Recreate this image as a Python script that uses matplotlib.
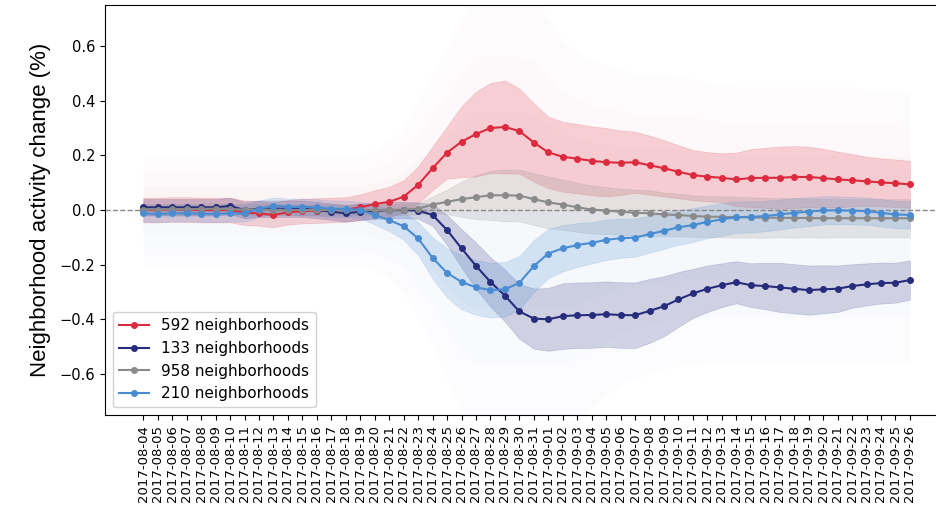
import numpy as np
import pandas as pd
import matplotlib
matplotlib.use('Agg')
import matplotlib.pyplot as plt

dates = pd.date_range('2017-08-04', '2017-09-26').strftime('%Y-%m-%d').tolist()

# mean change per cluster
red_mean = [0.000, 0.000, 0.002, 0.002, 0.000, 0.000, 0.000, -0.010, -0.012, -0.018,
            -0.008, -0.004, -0.002, 0.000, 0.002, 0.010, 0.022, 0.030, 0.049, 0.092,
            0.153, 0.210, 0.250, 0.278, 0.300, 0.304, 0.289, 0.247, 0.211, 0.195,
            0.188, 0.180, 0.175, 0.173, 0.175, 0.164, 0.153, 0.140, 0.128, 0.122,
            0.118, 0.112, 0.117, 0.118, 0.118, 0.121, 0.121, 0.117, 0.112, 0.109,
            0.105, 0.101, 0.098, 0.094]
navy_mean = [0.010, 0.010, 0.010, 0.010, 0.010, 0.010, 0.015, 0.000, 0.005, 0.005,
             0.005, 0.005, 0.000, -0.006, -0.012, -0.006, -0.003, 0.000, 0.000, -0.002,
             -0.018, -0.073, -0.140, -0.204, -0.263, -0.313, -0.371, -0.397, -0.400, -0.388,
             -0.385, -0.384, -0.381, -0.384, -0.385, -0.369, -0.352, -0.327, -0.305, -0.288,
             -0.275, -0.264, -0.275, -0.278, -0.283, -0.288, -0.293, -0.290, -0.288, -0.278,
             -0.272, -0.267, -0.266, -0.256]
grey_mean = [0.002, 0.002, 0.003, 0.003, 0.004, 0.005, 0.003, 0.002, 0.002, 0.001,
             0.001, 0.000, 0.000, 0.000, 0.000, 0.000, 0.000, 0.000, 0.002, 0.005,
             0.020, 0.030, 0.040, 0.047, 0.054, 0.054, 0.053, 0.040, 0.028, 0.020,
             0.010, 0.002, -0.002, -0.006, -0.010, -0.012, -0.016, -0.018, -0.022, -0.024,
             -0.025, -0.026, -0.027, -0.028, -0.028, -0.029, -0.029, -0.030, -0.030, -0.030,
             -0.030, -0.030, -0.030, -0.030]
blue_mean = [-0.012, -0.014, -0.012, -0.012, -0.013, -0.014, -0.012, -0.012, 0.005, 0.016,
             0.012, 0.012, 0.010, 0.005, 0.005, 0.000, -0.018, -0.037, -0.059, -0.104,
             -0.175, -0.230, -0.263, -0.283, -0.293, -0.290, -0.266, -0.205, -0.159, -0.140,
             -0.128, -0.120, -0.109, -0.103, -0.101, -0.088, -0.076, -0.063, -0.055, -0.043,
             -0.034, -0.026, -0.025, -0.022, -0.016, -0.010, -0.006, -0.001, -0.001, -0.002,
             -0.004, -0.010, -0.016, -0.018]

# half width of the shaded band
red_sd = [0.045] * 15 + [0.047, 0.050, 0.055, 0.060, 0.067, 0.080, 0.095, 0.130, 0.155, 0.165,
                         0.170, 0.156, 0.143, 0.131, 0.128, 0.127, 0.126, 0.125, 0.118, 0.112,
                         0.108, 0.103, 0.097, 0.092, 0.090, 0.090, 0.098, 0.106, 0.110, 0.114,
                         0.113, 0.111, 0.107, 0.102, 0.096, 0.090, 0.088, 0.087, 0.086]
navy_sd = [0.030] * 20 + [0.040, 0.055, 0.070, 0.085, 0.090, 0.095, 0.100, 0.110, 0.115, 0.120,
                          0.120, 0.120, 0.120, 0.120, 0.120, 0.117, 0.110, 0.100, 0.090, 0.085,
                          0.080, 0.077, 0.080, 0.085, 0.090, 0.090, 0.090, 0.088, 0.085, 0.080,
                          0.077, 0.075, 0.073, 0.072]
grey_sd = [0.020] * 20 + [0.030, 0.045, 0.065, 0.080, 0.090, 0.095, 0.095, 0.095, 0.095, 0.092,
                          0.090, 0.088, 0.086, 0.085, 0.085, 0.085, 0.080, 0.078, 0.076, 0.075,
                          0.075, 0.075, 0.074, 0.073, 0.072, 0.072, 0.071, 0.071, 0.070, 0.070,
                          0.070, 0.070, 0.070, 0.070]
blue_sd = [0.030] * 16 + [0.035, 0.040, 0.050, 0.060, 0.075, 0.090, 0.100, 0.100, 0.100, 0.100,
                          0.098, 0.095, 0.090, 0.085, 0.080, 0.076, 0.074, 0.072, 0.070, 0.068,
                          0.066, 0.064, 0.062, 0.060, 0.060, 0.058, 0.057, 0.056, 0.055, 0.054,
                          0.053, 0.052, 0.051, 0.050, 0.050, 0.050, 0.050, 0.050]

# envelope of the faint individual neighborhood lines
haze_hi = [0.20] * 16 + [0.22, 0.25, 0.30, 0.40, 0.50, 0.60, 0.70, 0.80, 0.80, 0.80,
                         0.80, 0.78, 0.70, 0.62, 0.58, 0.55, 0.53, 0.52, 0.50, 0.50,
                         0.50, 0.49, 0.48, 0.47, 0.46, 0.45, 0.45, 0.45, 0.45, 0.45,
                         0.45, 0.45, 0.45, 0.45, 0.44, 0.44, 0.44, 0.43]
haze_lo = [-0.20] * 16 + [-0.22, -0.25, -0.30, -0.40, -0.50, -0.62, -0.75, -0.80, -0.80, -0.80,
                          -0.80, -0.80, -0.80, -0.80, -0.78, -0.72, -0.68, -0.64, -0.62, -0.60,
                          -0.58, -0.57, -0.57, -0.56, -0.56, -0.56, -0.56, -0.56, -0.56, -0.56,
                          -0.56, -0.56, -0.56, -0.56, -0.56, -0.56, -0.56, -0.56]

series = [
    ('592 neighborhoods', red_mean, red_sd, '#dc2a3e'),
    ('133 neighborhoods', navy_mean, navy_sd, '#272d7c'),
    ('958 neighborhoods', grey_mean, grey_sd, '#8a8a8a'),
    ('210 neighborhoods', blue_mean, blue_sd, '#4a8cd2'),
]

fig = plt.figure(figsize=(9.37, 5.08), dpi=100)
ax = fig.add_axes([0.112, 0.183, 0.90, 0.807])
x = np.arange(len(dates))

# faint spaghetti haze, denser towards the middle
hi = np.array(haze_hi)
lo = np.array(haze_lo)
for f in (1.0, 0.7, 0.45):
    ax.fill_between(x, 0, hi * f, color='#f0b8c4', alpha=0.045, lw=0)
    ax.fill_between(x, lo * f, 0, color='#c8d0ea', alpha=0.045, lw=0)

for label, m, s, c in series:
    m = np.array(m)
    s = np.array(s)
    ax.fill_between(x, m - s, m + s, color=c, alpha=0.2, lw=0.5, edgecolor=c)

ax.axhline(0, color='#888888', ls='--', lw=1, zorder=2)

for label, m, s, c in series:
    ax.plot(x, m, '-o', color=c, lw=1.5, ms=4, label=label, zorder=3)

ax.set_xlim(-2.65, len(dates) - 1 + 2.65)
ax.set_ylim(-0.75, 0.75)
ax.spines['right'].set_visible(False)  # cut off in the original figure
ax.set_xticks(x)
ax.set_xticklabels(dates, rotation=90, fontsize=9.5)
ax.set_yticks([-0.6, -0.4, -0.2, 0.0, 0.2, 0.4, 0.6])
ax.tick_params(axis='y', labelsize=10.5)
ax.set_ylabel('Neighborhood activity change (%)', fontsize=16, family='Liberation Sans')
ax.yaxis.set_label_coords(-0.064, 0.5)
ax.legend(loc='lower left', fontsize=11, framealpha=0.9)

fig.savefig('out.png', dpi=100)
